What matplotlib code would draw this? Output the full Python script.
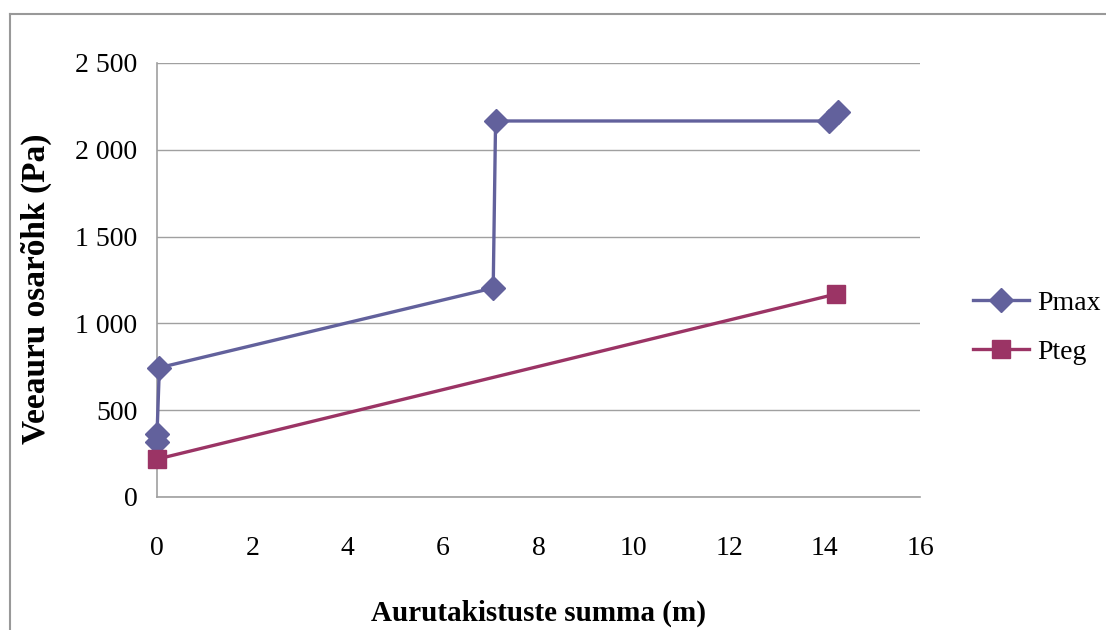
import matplotlib

matplotlib.use("Agg")
import matplotlib.pyplot as plt
from matplotlib.lines import Line2D

# vapour partial pressure along the cumulative vapour resistance
pmax_x = [0.0, 0.0, 0.05, 7.05, 7.1, 14.1, 14.28]
pmax_y = [315, 361, 745, 1204, 2166, 2166, 2215]
pteg_x = [0.0, 14.24]
pteg_y = [218, 1169]

x_ticks = list(range(0, 17, 2))
y_ticks = [0, 500, 1000, 1500, 2000, 2500]
y_labels = ["0", "500", "1 000", "1 500", "2 000", "2 500"]

_PMAX = "#62619c"
_PTEG = "#9b3465"
_GRID = "#a0a0a0"

plt.rcParams["font.family"] = ["Liberation Serif", "DejaVu Serif"]

W, H = 1106, 630
fig = plt.figure(figsize=(W / 100, H / 100), dpi=100)
ax = fig.add_axes([157 / W, 1 - 497 / H, (920 - 157) / W, (497 - 63) / H])

ax.plot(pmax_x, pmax_y, color=_PMAX, lw=2.4, marker="D", ms=12,
        mec=_PMAX, mfc=_PMAX, label="Pmax", zorder=3)
ax.plot(pteg_x, pteg_y, color=_PTEG, lw=2.4, marker="s", ms=13,
        mec=_PTEG, mfc=_PTEG, label="Pteg", zorder=3)

ax.set_xlim(0, 16)
ax.set_ylim(0, 2500)
ax.set_xticks(x_ticks, [str(t) for t in x_ticks])
ax.set_yticks(y_ticks, y_labels)
ax.tick_params(axis="both", labelsize=20, length=0)
ax.tick_params(axis="x", pad=28)
ax.tick_params(axis="y", pad=14)
ax.yaxis.grid(True, color=_GRID, lw=1)
ax.set_axisbelow(True)
for s in ("top", "right"):
    ax.spines[s].set_visible(False)
for s in ("left", "bottom"):
    ax.spines[s].set_color(_GRID)
    ax.spines[s].set_linewidth(1.2)
for ln in ax.lines:
    ln.set_clip_on(False)

ax.set_ylabel("Veeauru osarõhk (Pa)", fontsize=24, fontweight="bold")
ax.yaxis.set_label_coords(-0.137, 0.48)
ax.set_xlabel("Aurutakistuste summa (m)", fontsize=21, fontweight="bold", labelpad=28)

ax.legend(loc="center left", bbox_to_anchor=(1.07, 0.39), frameon=False,
          fontsize=20, handlelength=2.0, labelspacing=0.85, handletextpad=0.3,
          borderpad=0, borderaxespad=0)

# chart area border (runs off the right and bottom edges)
fig.add_artist(Line2D([9.5 / W, 9.5 / W], [-0.1, 1 - 14 / H], color="#999999", lw=1.5))
fig.add_artist(Line2D([9.5 / W, 1.1], [1 - 14 / H, 1 - 14 / H], color="#999999", lw=1.5))

fig.savefig("out.png", dpi=100)
